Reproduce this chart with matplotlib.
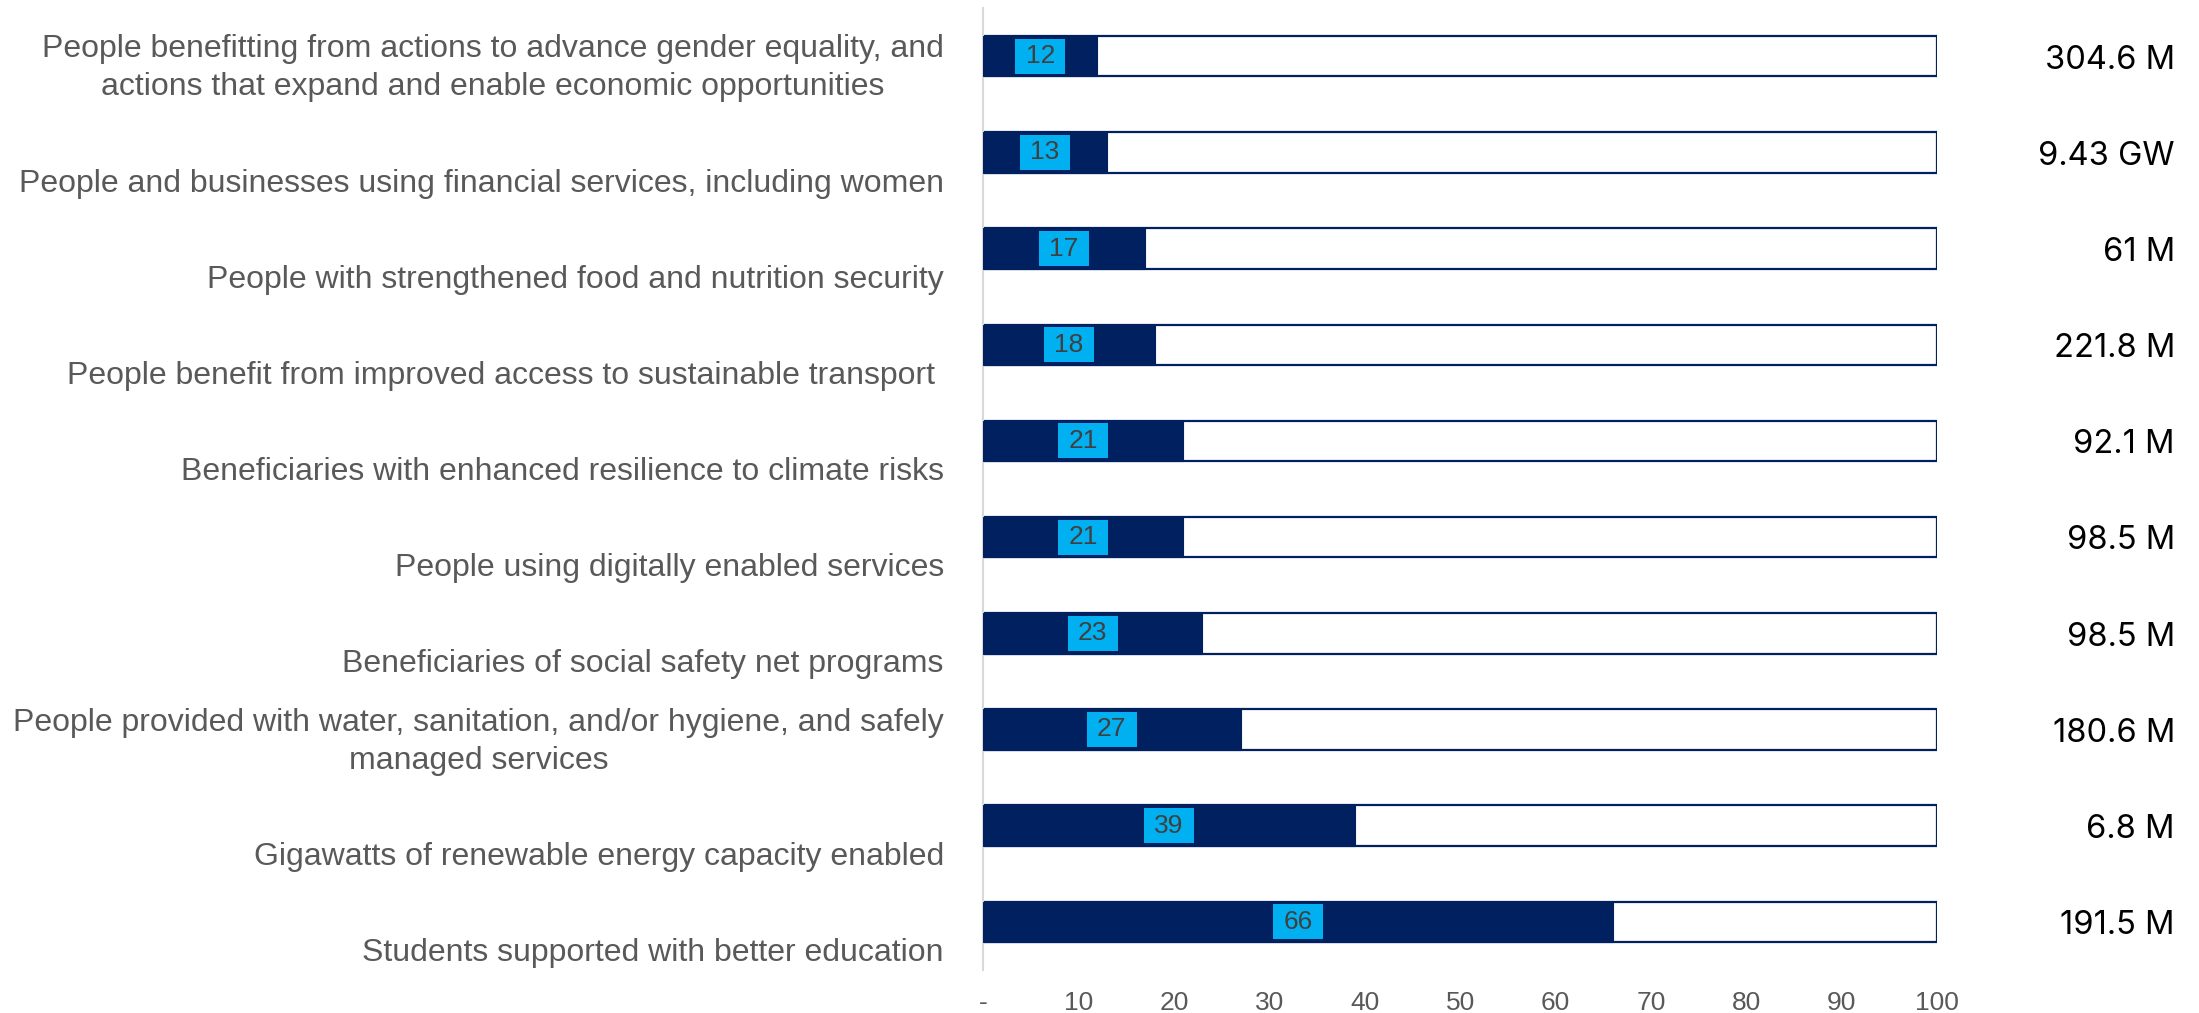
import matplotlib.pyplot as plt
from matplotlib.ticker import FuncFormatter

# Corporate results indicators: share of each indicator's total, with reported totals
categories = [
    "People benefitting from actions to advance gender equality, and\nactions that expand and enable economic opportunities",
    "People and businesses using financial services, including women",
    "People with strengthened food and nutrition security",
    "People benefit from improved access to sustainable transport ",
    "Beneficiaries with enhanced resilience to climate risks",
    "People using digitally enabled services",
    "Beneficiaries of social safety net programs",
    "People provided with water, sanitation, and/or hygiene, and safely\nmanaged services",
    "Gigawatts of renewable energy capacity enabled",
    "Students supported with better education",
]
shares = [12, 13, 17, 18, 21, 21, 23, 27, 39, 66]
totals = ["304.6 M", "9.43 GW", "61 M", "221.8 M", "92.1 M",
          "98.5 M", "98.5 M", "180.6 M", "6.8 M", "191.5 M"]
x_ticks = [0, 10, 20, 30, 40, 50, 60, 70, 80, 90, 100]

NAVY = "#002060"
CYAN = "#00B0F0"
GREY = "#595959"

fig = plt.figure(figsize=(21.99, 10.13), dpi=100)
ax = fig.add_axes([0.447, 0.0425, 0.434, 0.9495])

pos = list(range(len(categories)))
bar_h = 0.42

# outline box for the full 0-100 range, then the filled share on top
ax.barh(pos, [100] * len(pos), height=bar_h, color="white",
        edgecolor=NAVY, linewidth=1.6, zorder=2)
ax.barh(pos, shares, height=bar_h, color=NAVY, edgecolor=NAVY,
        linewidth=0.8, zorder=3)

# value badges centred on each filled bar
box_w = 5.2
ax.barh(pos, [box_w] * len(pos), left=[s / 2 - box_w / 2 for s in shares],
        height=0.365, color=CYAN, zorder=4)
for y, s in zip(pos, shares):
    ax.text(s / 2, y, str(s), ha="center", va="center", fontsize=19,
            color="#404040", family="Liberation Sans", zorder=5)

trans = ax.get_yaxis_transform()
for y, lab, tot in zip(pos, categories, totals):
    ax.text(-0.041, y + 0.48, lab, transform=trans, ha="right", va="bottom",
            multialignment="center", fontsize=23, color=GREY,
            family="Liberation Sans", linespacing=1.35)
    ax.text(1.249, y + 0.04, tot, transform=trans, ha="right", va="center",
            fontsize=23.5, color="black", family="Inter")

ax.set_xlim(0, 100)
ax.set_ylim(len(pos) - 0.5, -0.5)
ax.set_xticks(x_ticks)
ax.xaxis.set_major_formatter(FuncFormatter(lambda v, _: "-" if v == 0 else f"{v:.0f}"))
ax.tick_params(axis="x", length=0, pad=15, labelsize=19, labelcolor=GREY)
for t in ax.get_xticklabels():
    t.set_family("Liberation Sans")
ax.set_yticks([])

for side in ("top", "right", "bottom"):
    ax.spines[side].set_visible(False)
ax.spines["left"].set_color("#D9D9D9")
ax.spines["left"].set_linewidth(1.5)

fig.savefig("out.png", dpi=100, facecolor="white")
